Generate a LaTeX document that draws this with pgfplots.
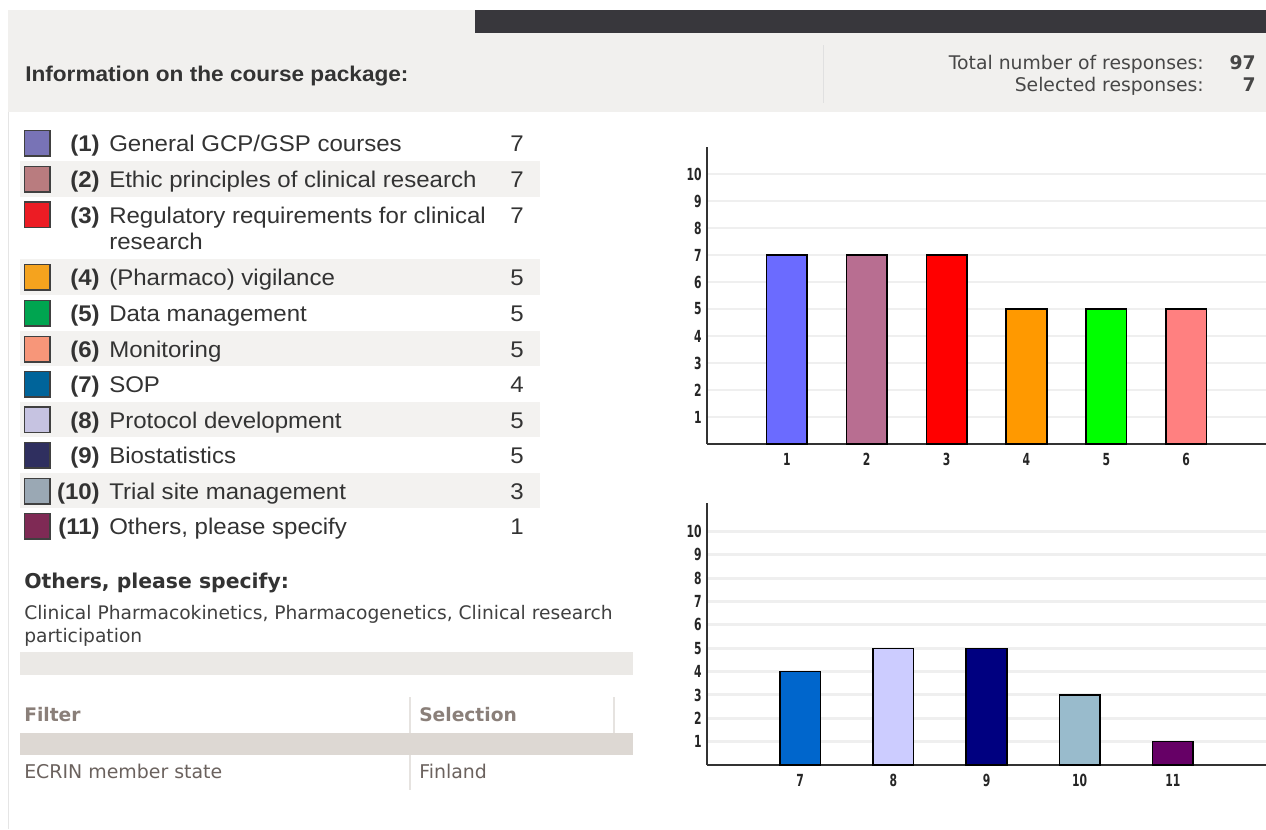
\documentclass[border=0pt]{standalone}
\usepackage{pgfplots}
\pgfplotsset{compat=1.18}
\usepackage{fontspec}
\setmainfont{Liberation Sans}[FakeStretch=1.06]
\newfontfamily\verd{DejaVu Sans}
\newfontfamily\tickf{DejaVu Sans Condensed Bold}[FakeStretch=0.72]
\definecolor{hdrgray}{HTML}{F1F0EE}
\definecolor{darkbar}{HTML}{38373C}
\definecolor{stripe}{HTML}{F3F2F0}
\definecolor{bandA}{HTML}{EBE9E6}
\definecolor{bandB}{HTML}{DDD8D3}
\definecolor{sepgray}{HTML}{E6E3E0}
\definecolor{filtxt}{HTML}{8A7F79}
\definecolor{bodytxt}{HTML}{6B625E}
\definecolor{txt}{HTML}{333333}
\definecolor{gridc}{HTML}{EFEFEF}
% legend swatch colours
\definecolor{s1}{HTML}{7873B6}
\definecolor{s2}{HTML}{B97C7F}
\definecolor{s3}{HTML}{EC1C24}
\definecolor{s4}{HTML}{F5A31E}
\definecolor{s5}{HTML}{00A550}
\definecolor{s6}{HTML}{F79679}
\definecolor{s7}{HTML}{00649A}
\definecolor{s8}{HTML}{C6C3E1}
\definecolor{s9}{HTML}{2F2F5F}
\definecolor{s10}{HTML}{9AA8B4}
\definecolor{s11}{HTML}{7F2A55}
% bar colours
\definecolor{b1}{HTML}{6B6BFF}
\definecolor{b2}{HTML}{B86E91}
\definecolor{b3}{HTML}{FF0000}
\definecolor{b4}{HTML}{FF9900}
\definecolor{b5}{HTML}{00FF00}
\definecolor{b6}{HTML}{FF8080}
\definecolor{b7}{HTML}{0066CC}
\definecolor{b8}{HTML}{CCCCFF}
\definecolor{b9}{HTML}{000080}
\definecolor{b10}{HTML}{99BBCC}
\definecolor{b11}{HTML}{660066}

\pgfplotsset{
  mybars/.style={
    scale only axis,
    width=419.25pt,
    axis x line*=bottom, axis y line*=left,
    axis line style={-, line width=1.4pt, color=black!80},
    ymin=0,
    ytick={1,...,10},
    major tick length=0pt,
    ymajorgrids, grid style={line width=2.2pt, color=gridc},
    ybar, bar width=30.5pt, bar shift=0pt,
    every axis plot/.append style={draw=black, line width=1.1pt},
    /pgf/number format/assume math mode=true,
    tick label style={font=\tickf\fontsize{12.5}{13}\selectfont, text=black!85},
    yticklabel style={inner sep=0pt, anchor=east, xshift=-3.8pt},
    xticklabel style={inner sep=0pt, anchor=north, yshift=-6.5pt},
    clip=false,
  }
}

\begin{document}
\begin{tikzpicture}[x=0.75pt,y=0.75pt]
\path[use as bounding box, fill=white] (0,0) rectangle (1266,-829);
% header
\fill[hdrgray] (8,-10) rectangle (1266,-112);
\fill[darkbar] (475,-10) rectangle (1266,-33);
\draw[color=white!88!black, line width=0.75pt] (823,-45) -- (823,-103);
\node[anchor=base west, inner sep=0pt, font=\bfseries\fontsize{16}{19}\selectfont, text=txt] at (25,-81) {Information on the course package:};
\node[anchor=base east, inner sep=0pt, font=\verd\fontsize{14.1}{16}\selectfont, text=black!72] at (1204,-69.3) {Total number of responses:};
\node[anchor=base east, inner sep=0pt, font=\verd\bfseries\fontsize{14.1}{16}\selectfont, text=black!72] at (1256,-69.3) {97};
\node[anchor=base east, inner sep=0pt, font=\verd\fontsize{14.1}{16}\selectfont, text=black!72] at (1204,-91.7) {Selected responses:};
\node[anchor=base east, inner sep=0pt, font=\verd\bfseries\fontsize{14.1}{16}\selectfont, text=black!72] at (1256,-91.7) {7};
% left border
\draw[color=white!90!black, line width=0.75pt] (8,-112) -- (8,-829);
% stripes
\foreach \t/\b in {161/196.5, 259/295, 331/366, 401.5/437, 473/508}
  \fill[stripe] (20,-\t) rectangle (540,-\b);
% legend rows
\foreach \t/\n/\lab/\c/\col in {
  125/1/{General GCP/GSP courses}/7/s1,
  161/2/{Ethic principles of clinical research}/7/s2,
  196.5/3/{Regulatory requirements for clinical}/7/s3,
  259/4/{(Pharmaco) vigilance}/5/s4,
  295/5/{Data management}/5/s5,
  331/6/{Monitoring}/5/s6,
  366/7/{SOP}/4/s7,
  401.5/8/{Protocol development}/5/s8,
  437/9/{Biostatistics}/5/s9,
  473/10/{Trial site management}/3/s10,
  508/11/{Others, please specify}/1/s11}{
  \filldraw[fill=\col, draw=black!75, line width=1.1pt] (24.5,-\t-5.5) rectangle (50,-\t-31);
  \node[anchor=base east, inner sep=0pt, font=\bfseries\fontsize{17}{20}\selectfont, text=txt] at (100,-\t-26.5) {(\n)};
  \node[anchor=base west, inner sep=0pt, font=\fontsize{17}{20}\selectfont, text=txt] at (109,-\t-26.5) {\lab};
  \node[anchor=base east, inner sep=0pt, font=\fontsize{17}{20}\selectfont, text=txt] at (524,-\t-26.5) {\c};
}
\node[anchor=base west, inner sep=0pt, font=\fontsize{17}{20}\selectfont, text=txt] at (109,-249) {research};
% others section
\node[anchor=base west, inner sep=0pt, font=\verd\bfseries\fontsize{15.3}{17}\selectfont, text=black!80] at (24,-588) {Others, please specify:};
\node[anchor=base west, inner sep=0pt, font=\verd\fontsize{14}{16}\selectfont, text=black!75] at (24,-619.5) {Clinical Pharmacokinetics, Pharmacogenetics, Clinical research};
\node[anchor=base west, inner sep=0pt, font=\verd\fontsize{14}{16}\selectfont, text=black!75] at (24,-642.5) {participation};
\fill[bandA] (20,-652) rectangle (633,-675);
\fill[bandB] (20,-733) rectangle (633,-755);
\draw[sepgray, line width=2pt] (410,-697) -- (410,-733);
\draw[sepgray, line width=2pt] (614,-697) -- (614,-733);
\draw[sepgray, line width=2pt] (410,-755) -- (410,-790);
\node[anchor=base west, inner sep=0pt, font=\verd\bfseries\fontsize{14}{16}\selectfont, text=filtxt] at (24,-721) {Filter};
\node[anchor=base west, inner sep=0pt, font=\verd\bfseries\fontsize{14}{16}\selectfont, text=filtxt] at (419,-721) {Selection};
\node[anchor=base west, inner sep=0pt, font=\verd\fontsize{14.2}{16}\selectfont, text=bodytxt] at (24,-778) {ECRIN member state};
\node[anchor=base west, inner sep=0pt, font=\verd\fontsize{14.2}{16}\selectfont, text=bodytxt] at (419,-778) {Finland};

% top chart
\begin{axis}[mybars, at={(530.25pt,-333pt)}, anchor=south west,
  height=222.75pt, xmin=0, xmax=7, ymax=11, xtick={1,...,6}]
\addplot[fill=b1] coordinates {(1,7)};
\addplot[fill=b2] coordinates {(2,7)};
\addplot[fill=b3] coordinates {(3,7)};
\addplot[fill=b4] coordinates {(4,5)};
\addplot[fill=b5] coordinates {(5,5)};
\addplot[fill=b6] coordinates {(6,5)};
\end{axis}
% bottom chart
\begin{axis}[mybars, at={(530.25pt,-573.75pt)}, anchor=south west,
  height=196.5pt, xmin=6, xmax=12, ymax=11.22, xtick={7,...,11}]
\addplot[fill=b7] coordinates {(7,4)};
\addplot[fill=b8] coordinates {(8,5)};
\addplot[fill=b9] coordinates {(9,5)};
\addplot[fill=b10] coordinates {(10,3)};
\addplot[fill=b11] coordinates {(11,1)};
\end{axis}
\end{tikzpicture}
\end{document}
